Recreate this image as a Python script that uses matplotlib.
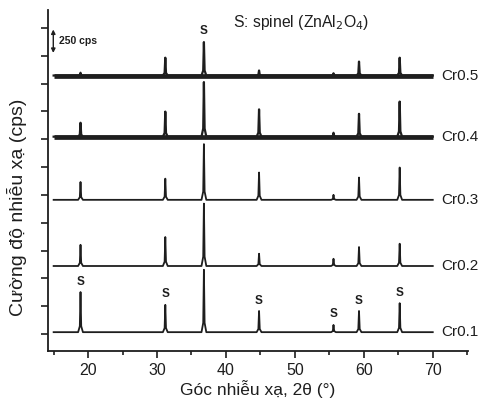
import matplotlib.pyplot as plt

plt.rcParams['font.family'] = ['Liberation Sans', 'DejaVu Sans']

# 2theta positions of the spinel reflections
peak_pos = [18.9, 31.2, 36.8, 44.8, 55.6, 59.3, 65.2]

samples = ['Cr0.1', 'Cr0.2', 'Cr0.3', 'Cr0.4', 'Cr0.5']
baselines = [18, 612, 1206, 1773, 2322]

# peak heights above baseline (cps)
h_cr01 = [360, 245, 560, 190, 65, 190, 260]
h_cr02 = [190, 260, 560, 110, 65, 170, 200]
h_cr03 = [160, 190, 500, 245, 45, 200, 290]
h_cr04 = [125, 225, 490, 245, 35, 205, 315]
h_cr05 = [25, 160, 300, 45, 20, 125, 160]
heights = [h_cr01, h_cr02, h_cr03, h_cr04, h_cr05]

# "S" marks above Cr0.1 peaks (all but the strongest one)
s_marks = [18.9, 31.2, 44.8, 55.6, 59.3, 65.2]

noisy = ['Cr0.4', 'Cr0.5']


def pattern(base, h):
    xs = [15]
    ys = [base]
    for p, hh in zip(peak_pos, h):
        xs += [p - 0.35, p - 0.1, p, p + 0.1, p + 0.35]
        ys += [base, base + 0.15 * hh, base + hh, base + 0.15 * hh, base]
    xs.append(70)
    ys.append(base)
    return xs, ys


fig = plt.figure(figsize=(4.91, 4.01), dpi=100)
ax = fig.add_axes([0.098, 0.125, 0.855, 0.85])

ink = '#1e1e1e'
for name, base, h in zip(samples, baselines, heights):
    xs, ys = pattern(base, h)
    if name in noisy:
        # noisy scans: a thick band for the baseline
        ax.plot([15, 70], [base, base], color=ink, lw=3.4, solid_capstyle='butt')
        ax.plot(xs, ys, color=ink, lw=1.6)
    else:
        ax.plot(xs, ys, color=ink, lw=1.3)
    ax.text(71.3, base, name, fontsize=11, va='center', ha='left', color=ink)

for p in s_marks:
    top = baselines[0] + h_cr01[peak_pos.index(p)]
    ax.text(p, top + 40, 'S', fontsize=8.5, fontweight='bold', ha='center', va='bottom', color=ink)

ax.text(36.8, 2665, 'S', fontsize=8.5, fontweight='bold', ha='center', va='bottom', color=ink)
ax.text(41.0, 2800, 'S: spinel (ZnAl$_2$O$_4$)', fontsize=11.3, ha='left', va='center', color=ink)

# scale bar
ax.annotate('', xy=(14.95, 2500), xytext=(14.95, 2760),
            arrowprops=dict(arrowstyle='<|-|>', color=ink, lw=1, mutation_scale=6))
ax.text(15.8, 2630, '250 cps', fontsize=7.5, fontweight='bold', va='center', ha='left', color=ink)

ax.set_xlim(14.2, 75.1)
ax.set_ylim(-150, 2910)
ax.set_xticks([20, 30, 40, 50, 60, 70])
ax.set_xticks([15, 25, 35, 45, 55, 65, 75], minor=True)
ax.set_yticks(range(0, 2751, 250))
ax.set_yticklabels([])
ax.tick_params(axis='x', which='major', direction='out', length=5, width=1.2, labelsize=11.5, colors=ink)
ax.tick_params(axis='x', which='minor', direction='out', length=3, width=1.2, colors=ink)
ax.tick_params(axis='y', direction='out', length=5, width=1.2, colors=ink)
for side in ['top', 'right']:
    ax.spines[side].set_visible(False)
for side in ['left', 'bottom']:
    ax.spines[side].set_linewidth(1.3)
    ax.spines[side].set_color(ink)

ax.set_xlabel('Góc nhiễu xạ, 2θ (°)', fontsize=12.5, labelpad=2, color=ink)
ax.set_ylabel('Cường độ nhiễu xạ (cps)', fontsize=14, color=ink)
ax.yaxis.set_label_coords(-0.05, 0.42)

fig.savefig('out.png', dpi=100, facecolor='white')
